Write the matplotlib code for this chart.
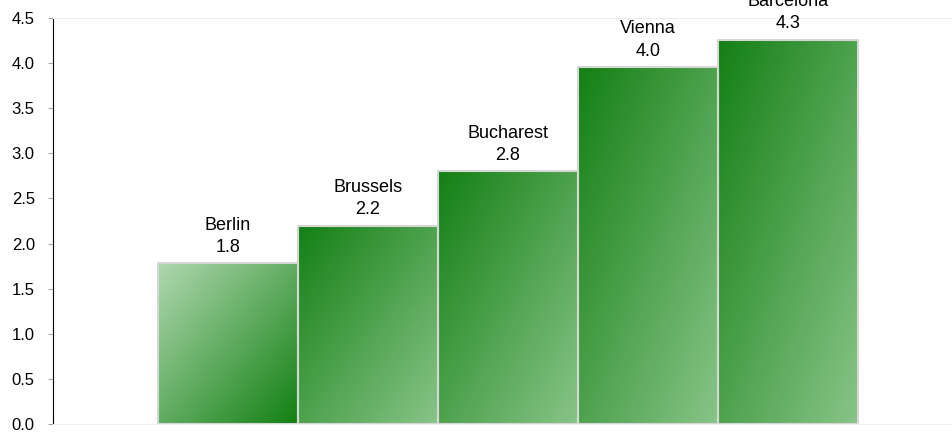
import numpy as np
import matplotlib.pyplot as plt
from matplotlib.colors import LinearSegmentedColormap
from matplotlib.patches import Rectangle

plt.rcParams['font.family'] = ['Liberation Sans', 'DejaVu Sans']

cities = ['Berlin', 'Brussels', 'Bucharest', 'Vienna', 'Barcelona']
values = [1.78, 2.2, 2.8, 3.96, 4.26]

fig = plt.figure(figsize=(9.53, 4.37), dpi=100)
ax = fig.add_axes([0.0556, 0.0297, 0.9444, 0.9291])

dark_to_light = LinearSegmentedColormap.from_list('dl', ['#148014', '#88c488'])
light_to_dark = LinearSegmentedColormap.from_list('ld', ['#b0d8b0', '#128012'])

# gradient along the (normalised) diagonal, top-left -> bottom-right
n = 200
u = np.linspace(0, 1, n)
uu, vv = np.meshgrid(u, u)
grad = (uu + vv) / 2  # row 0 is top with origin='upper'

for i, (c, v) in enumerate(zip(cities, values)):
    rect = Rectangle((i - 0.5, 0), 1, v, facecolor='none',
                     edgecolor='#d6d6d6', linewidth=1.5, zorder=3)
    ax.add_patch(rect)
    cmap = light_to_dark if i == 0 else dark_to_light
    im = ax.imshow(grad, cmap=cmap, extent=(i - 0.5, i + 0.5, 0, v),
                   aspect='auto', origin='upper', zorder=2, interpolation='bilinear')
    im.set_clip_path(rect)
    ax.annotate(f'{c}\n{v:.1f}', (i, v), xytext=(0, 5.2), textcoords='offset points',
                ha='center', va='bottom', fontsize=13, linespacing=1.4,
                annotation_clip=False, clip_on=False)

ax.set_xlim(-1.25, 5.18)
ax.set_ylim(0, 4.5)
ax.set_yticks(np.arange(0, 4.51, 0.5))
ax.set_yticklabels([f'{t:.1f}' for t in np.arange(0, 4.51, 0.5)], fontsize=12)
ax.set_xticks([])
ax.tick_params(axis='y', length=3.6, color='#aaaaaa', pad=9.5)

ax.spines['right'].set_visible(False)
ax.spines['top'].set_color('#eeeeee')
ax.spines['bottom'].set_color('#eeeeee')
ax.spines['left'].set_color('black')

fig.savefig('out.png', dpi=100)
